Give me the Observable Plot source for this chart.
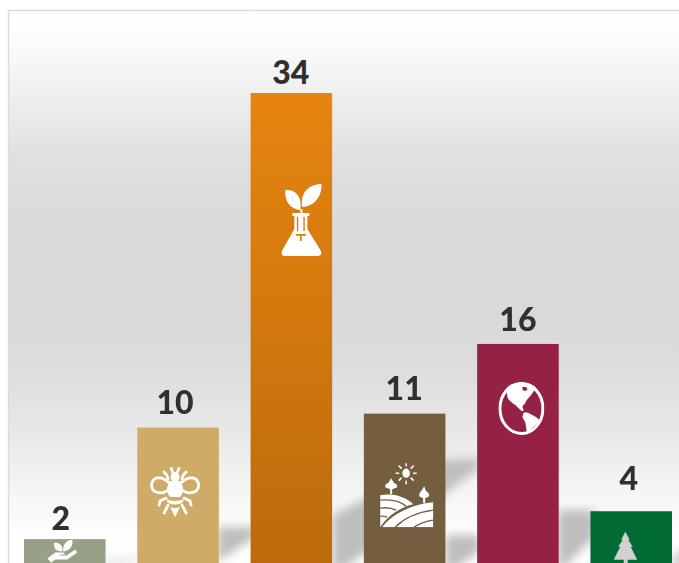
<!DOCTYPE html>
<html>
<head>
<meta charset="utf-8">
<script src="https://cdn.jsdelivr.net/npm/d3@7"></script>
<script src="https://cdn.jsdelivr.net/npm/@observablehq/plot@0.6"></script>
<style>
html,body{margin:0;padding:0;background:#fff;overflow:hidden}
svg{display:block;overflow:hidden !important;background:#fff}
</style>
</head>
<body>
<div id="chart"></div>
<script>
const categories = ["Hand", "Bee", "Flask", "Farm", "Globe", "Tree"];
const values = [2, 10, 34, 11, 16, 4];
const fills = ["#96A188", "#CEAC68", "url(#orangeBar)", "#735F3F", "#952245", "#006B35"];
const labelShift = [-4.5, -3.5, -1, -1, -0.5, -3];
const labelLift = [-20, -24.5, -19.500, -24, -24, -31.500];
const iconShift = [-3, -3.5, 10.5, 2, 3, -6];
const iconDrop = [12, 64, 126.5, 81, 64, 37];

const farmBrown = "#735F3F";
const icons = [
  {w: 32, h: 24, body: `<g fill="#fff"><path d="M16 12C9 12 7 8 8 3C13 3 17 6 16 12Z"/><path d="M17 12C16 5 20 1 26 0C27 6 24 11 17 12Z"/><path d="M1 19L9 13H17L19 15H14L13 16H20L29 10L31 13L21 20H9L5 23Z"/></g>`},
  {w: 50, h: 50, body: `<g fill="#fff" stroke="none"><ellipse cx="25" cy="10" rx="4.500" ry="5"/><path d="M19 14H31L33 21Q33 27 30 30H20Q17 27 17 21Z"/><path d="M16 32Q25 36 34 32L32 36Q25 39 18 36Z"/><path d="M20 40Q25 42 30 40L25 50Z"/></g><g fill="none" stroke="#fff" stroke-width="2.800" stroke-linecap="round"><path d="M18 15C11 8 2 10 1.500 18C1.500 26 11 28 18 23"/><path d="M32 15C39 8 48 10 48.500 18C48.500 26 39 28 32 23"/><path d="M23 6L21 1M27 6L29 1"/><path d="M18 12Q17 7 14 5M32 12Q33 7 36 5"/><path d="M16 31L10 34L9 38M34 31L40 34L41 38"/><path d="M18 38L14 46M32 38L36 46"/></g>`},
  {w: 42, h: 74, body: `<g fill="#fff"><path d="M19 27C10 26 3 20 4 7C14 6 21 13 19 27Z"/><path d="M21 24C18 10 28 1 40 1C41 12 34 23 21 24Z"/><path d="M19 26h2v5h-2z"/><path fill-rule="evenodd" d="M11 30H28V33H26V46L39 67Q42 73 36 73H4Q-2 73 1 67L13 46V33H11ZM15.500 34V48H16.900V34ZM22 34V48H23.400V34ZM14.500 51H24.500V52.800H20.300V58H18.700V52.800H14.500Z"/></g>`},
  {w: 54, h: 64, body: `<g fill="#fff"><ellipse cx="26" cy="10" rx="3.800" ry="4.600"/><path d="M0 32C12 30 25 33 33 41C20 44 8 52 0 64Z"/><path d="M2 64C12 50 33 41 53 39V64Z"/><path d="M10 31V26L5 24Q5 20 8 20L11 15L14 20Q17 20 17 24L12 26V31Z"/><path d="M43 40V35L39 33Q39 29 41 28L44 23L46 28Q49 29 49 33L45 35V40Z"/></g><g fill="none" stroke="#fff" stroke-width="1.500" stroke-linecap="round"><path d="M26 0V2.500M26 18V20.500M16 10H18.500M33.500 10H36M19 3L21 5M33 3L31 5M19 17L21 15M33 17L31 15"/></g><g fill="none" stroke="${farmBrown}" stroke-width="1.400"><path d="M0 37C10 36 20 38 26 43"/><path d="M0 45C6 44 12 45 16 47"/><path d="M0 53C2 53 5 53 7 54"/><path d="M15 64C24 55 38 49 53 47"/><path d="M34 64C40 60 46 58 53 57"/></g>`},
  {w: 46, h: 53, body: `<ellipse cx="23" cy="26.500" rx="21.500" ry="25" fill="none" stroke="#fff" stroke-width="3"/><g fill="#fff"><path d="M8 8C9 5 11 3 13 2.500C17 1 22 1 26 1.500C31 2 35 3 37 5C36 8 35 10 34 11C32 14 31 15 30 16C28 18 27 20 27 21C25 23 24 24 24 25C25 27 25 28 25 29C24 29 23 29 22 28C20 26 18 24 17 23C15 22 14 21 14 21C11 19 9 16 9 15Z"/><path d="M25 31C27 30 29 31 30 31C34 33 38 35 41 38C40 40 38 42 37 43C35 45 33 47 30 50C29 50 28 49 28 48C28 45 27 43 27 41C26 38 24 36 24 35Z"/></g><path d="M24 5H28L29 8L26 9L24 7.500ZM26 22.500L33 24V25L26 24Z" fill="#952245"/>`},
  {w: 24, h: 34, body: `<path fill="#D0D0D0" d="M11.500 0L16 8H14.500L19 15H17L23.500 28H14V34H10V28H0L6.500 15H4.500L9 8H7.500Z"/>`}
];

// Soft decorative shadows behind the bars, as [slot, value] corners.
const shadowBands = [
  {o: .35, pts: [[.71,.72],[1.02,.72],[1.02,.3],[.71,.05]]},
  {o: 1, pts: [[1.71,2.87],[2.04,2.87],[2.04,2.15],[1.71,.36]]},
  {o: 1, pts: [[2.72,3.73],[3.72,7.68],[4.02,7.82],[4.02,7.1],[2.83,-.07],[2.72,-.07]]},
  {o: 1, pts: [[3.72,2.3],[4.02,2.3],[4.02,1.08],[3.8,-.07],[3.72,-.07]]},
  {o: 1, pts: [[4.71,4.09],[5.04,4.09],[5.04,2.15],[4.76,-.07],[4.71,-.07]]},
  {o: .7, pts: [[5.72,1.08],[5.88,1.08],[5.88,-.07],[5.72,-.07]]}
];
const backgroundStops = [[0,"#ffffff"],[.05,"#fcfcfc"],[.16,"#eeeeee"],[.26,"#e1e1e1"],[.36,"#dbdbdb"],[.56,"#d9d9d9"],[.66,"#dedede"],[.76,"#e8e8e8"],[.86,"#f4f4f4"],[.94,"#fdfdfd"],[1,"#ffffff"]];

const xRange = [24, 672];
const gap = 0.28;
const rows = categories.map((c, i) => ({category: c, value: values[i], fill: fills[i]}));

function gradient(defs, id, stops) {
  const g = defs.append("linearGradient").attr("id", id).attr("x1", 0).attr("x2", 0).attr("y1", 0).attr("y2", 1);
  stops.forEach(([o, c]) => g.append("stop").attr("offset", o).attr("stop-color", c));
}
function defsMark() {
  const defs = d3.create("svg:defs");
  gradient(defs, "panelBg", backgroundStops);
  gradient(defs, "orangeBar", [[0, "#E68510"], [1, "#BC6A0C"]]);
  defs.append("filter").attr("id", "soft").attr("x", "-30%").attr("y", "-30%").attr("width", "160%").attr("height", "160%")
    .append("feGaussianBlur").attr("stdDeviation", 5);
  return defs.node();
}
function shadowMark(index, scales) {
  const step = (xRange[1] - xRange[0]) / (categories.length - gap);
  const g = d3.create("svg:g").attr("filter", "url(#soft)").attr("fill", "#BEBEBE");
  shadowBands.forEach(b => g.append("polygon").attr("opacity", b.o)
    .attr("points", b.pts.map(([s, v]) => [xRange[0] + s * step, scales.y(v)].join(",")).join(" ")));
  return g.node();
}
const iconSrc = ic => "data:image/svg+xml," + encodeURIComponent(
  `<svg xmlns="http://www.w3.org/2000/svg" width="${ic.w}" height="${ic.h}" viewBox="0 0 ${ic.w} ${ic.h}">${ic.body}</svg>`);

const chart = Plot.plot({
  width: 679,
  height: 563,
  marginLeft: 8, marginTop: 10, marginRight: 0, marginBottom: 0,
  x: {domain: categories, range: xRange, paddingInner: gap, paddingOuter: 0, round: false, axis: null},
  y: {domain: [0, 34], range: [567, 93], axis: null},
  color: {type: "identity"},
  marks: [
    defsMark,
    Plot.frame({fill: "url(#panelBg)", stroke: "none"}),
    Plot.frame({anchor: "left", stroke: "#DCDCDC", strokeWidth: 1.6}),
    Plot.frame({anchor: "top", stroke: "#DCDCDC", strokeWidth: 1.6}),
    shadowMark,
    Plot.barY(rows, {x: "category", y: "value", fill: "fill"}),
    ...rows.map((r, i) => Plot.image([r], {
      x: "category", y: "value", dx: iconShift[i], dy: iconDrop[i],
      width: icons[i].w, height: icons[i].h, src: () => iconSrc(icons[i])
    })),
    ...rows.map((r, i) => Plot.text([r], {
      x: "category", y: "value", text: d => String(d.value), dx: labelShift[i], dy: labelLift[i],
      fontFamily: "Lato", fontWeight: 900, fontSize: 32, fill: "#303030", textAnchor: "middle"
    }))
  ]
});
document.getElementById("chart").appendChild(chart);
</script>
</body>
</html>
